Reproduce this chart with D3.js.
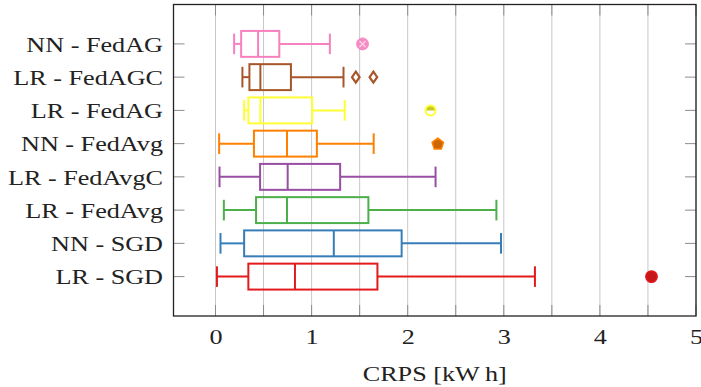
<!DOCTYPE html>
<html>
<head>
<meta charset="utf-8">
<script src="https://cdn.jsdelivr.net/npm/d3@7"></script>
<style>
  html, body { margin: 0; padding: 0; background: #fff; }
  svg { display: block; }
</style>
</head>
<body>
<svg id="chart" width="701" height="387"></svg>
<script>
// ---- data (bottom to top) ----
const categories = ["LR - SGD", "NN - SGD", "LR - FedAvg", "LR - FedAvgC", "NN - FedAvg", "LR - FedAG", "LR - FedAGC", "NN - FedAG"];
const lowerWhisker = [0.015, 0.052, 0.087, 0.042, 0.038, 0.298, 0.280, 0.194];
const lowerQuartile = [0.342, 0.298, 0.422, 0.464, 0.400, 0.342, 0.353, 0.267];
const medianValue = [0.827, 1.231, 0.744, 0.751, 0.744, 0.467, 0.467, 0.443];
const upperQuartile = [1.685, 1.937, 1.591, 1.297, 1.055, 1.006, 0.785, 0.664];
const upperWhisker = [3.324, 2.971, 2.923, 2.290, 1.646, 1.345, 1.332, 1.190];
const outliers = [[4.537], [], [], [], [2.313], [2.238], [1.460, 1.643], [1.530]];
const xTicks = [0, 1, 2, 3, 4, 5];
const xMinorTicks = [0.5, 1.5, 2.5, 3.5, 4.5];
const xLabel = "CRPS [kW\u2009h]";

// ---- styles ----
const colors = ["#e41a1c", "#377eb8", "#4daf4a", "#984ea3", "#ff7f00", "#ffff33", "#a65628", "#f781bf"];
const markTypes = ["circle", "circle", "circle", "circle", "pentagon", "halfcircle", "diamond", "otimes"];
const FONT = "Liberation Serif";
const FS = 22, SX = 1.19;

const svg = d3.select("#chart");
const L = 173.5, R = 696, T = 4.5, B = 316;

const x = d3.scaleLinear().domain([-0.437, 5]).range([L, R]);
const y = d3.scaleLinear().domain([-0.185, 9.185]).range([B, T]);

// grid lines
const gridVals = xTicks.concat(xMinorTicks);
svg.append("g").selectAll("line").data(gridVals).join("line")
  .attr("x1", d => x(d)).attr("x2", d => x(d))
  .attr("y1", T).attr("y2", B)
  .attr("stroke", "#c8c8c8").attr("stroke-width", 1);

// x axis (labels only; ticks drawn inward below)
const tickLen = 11;
const bottomAxis = d3.axisBottom(x).tickValues(xTicks).tickFormat(d3.format("d")).tickSize(0).tickPadding(0);
const gB = svg.append("g").attr("transform", `translate(0,${B})`).call(bottomAxis);
gB.select(".domain").remove();
gB.selectAll(".tick text")
  .attr("font-family", FONT).attr("font-size", FS).attr("fill", "#222")
  .attr("y", 0).attr("dy", null)
  .attr("transform", `translate(0,28) scale(${SX},1)`);

// tick marks bottom/top
svg.append("g").selectAll("line").data(gridVals).join("line")
  .attr("x1", d => x(d)).attr("x2", d => x(d))
  .attr("y1", B).attr("y2", B - tickLen)
  .attr("stroke", "#8c8c8c").attr("stroke-width", 1);
svg.append("g").selectAll("line").data(gridVals).join("line")
  .attr("x1", d => x(d)).attr("x2", d => x(d))
  .attr("y1", T).attr("y2", T + tickLen)
  .attr("stroke", "#8c8c8c").attr("stroke-width", 1);

// y axis labels
const positions = categories.map((c, i) => i + 1);
const leftAxis = d3.axisLeft(y).tickValues(positions).tickFormat((d) => categories[d - 1]).tickSize(0).tickPadding(0);
const gL = svg.append("g").attr("transform", `translate(${L},0)`).call(leftAxis);
gL.select(".domain").remove();
gL.selectAll(".tick text")
  .attr("font-family", FONT).attr("font-size", FS).attr("fill", "#222")
  .attr("x", 0).attr("dy", null).attr("text-anchor", "end")
  .attr("transform", `translate(-10.5,7.2) scale(${SX},1)`);

svg.append("g").selectAll("line").data(positions).join("line")
  .attr("x1", L).attr("x2", L + tickLen)
  .attr("y1", d => y(d)).attr("y2", d => y(d))
  .attr("stroke", "#8c8c8c").attr("stroke-width", 1);
svg.append("g").selectAll("line").data(positions).join("line")
  .attr("x1", R).attr("x2", R - tickLen)
  .attr("y1", d => y(d)).attr("y2", d => y(d))
  .attr("stroke", "#8c8c8c").attr("stroke-width", 1);

// boxes
const boxHalf = 0.39, capHalf = 0.31;
const g = svg.append("g");
categories.forEach((cat, i) => {
  const p = i + 1, c = colors[i];
  const gg = g.append("g").attr("stroke", c).attr("stroke-width", 2).attr("fill", "none");
  gg.append("line").attr("x1", x(lowerWhisker[i])).attr("x2", x(lowerQuartile[i])).attr("y1", y(p)).attr("y2", y(p));
  gg.append("line").attr("x1", x(upperQuartile[i])).attr("x2", x(upperWhisker[i])).attr("y1", y(p)).attr("y2", y(p));
  gg.append("line").attr("x1", x(lowerWhisker[i])).attr("x2", x(lowerWhisker[i])).attr("y1", y(p - capHalf)).attr("y2", y(p + capHalf));
  gg.append("line").attr("x1", x(upperWhisker[i])).attr("x2", x(upperWhisker[i])).attr("y1", y(p - capHalf)).attr("y2", y(p + capHalf));
  gg.append("rect").attr("x", x(lowerQuartile[i])).attr("y", y(p + boxHalf))
    .attr("width", x(upperQuartile[i]) - x(lowerQuartile[i]))
    .attr("height", y(p - boxHalf) - y(p + boxHalf));
  gg.append("line").attr("x1", x(medianValue[i])).attr("x2", x(medianValue[i])).attr("y1", y(p - boxHalf)).attr("y2", y(p + boxHalf));

  outliers[i].forEach(v => {
    const cx = x(v), cy = y(p);
    const m = markTypes[i];
    const dark = d3.color(c).darker(0.35).formatHex();
    if (m === "circle") {
      svg.append("circle").attr("cx", cx).attr("cy", cy).attr("r", 5.8)
        .attr("fill", dark).attr("stroke", c).attr("stroke-width", 1.2);
    } else if (m === "pentagon") {
      const pts = d3.range(5).map(k => {
        const a = -Math.PI / 2 + k * 2 * Math.PI / 5;
        return [cx + 6 * Math.cos(a), cy + 6 * Math.sin(a) + 0.5];
      });
      svg.append("polygon").attr("points", pts.map(q => q.join(",")).join(" "))
        .attr("fill", "#cc6600").attr("stroke", c).attr("stroke-width", 1.5).attr("stroke-linejoin", "round");
    } else if (m === "halfcircle") {
      svg.append("path").attr("d", `M${cx - 5},${cy} A5,5 0 0 1 ${cx + 5},${cy} Z`)
        .attr("fill", "#c8c82a");
      svg.append("circle").attr("cx", cx).attr("cy", cy).attr("r", 5)
        .attr("fill", "none").attr("stroke", c).attr("stroke-width", 2);
    } else if (m === "diamond") {
      svg.append("path").attr("d", `M${cx},${cy - 5.5} L${cx + 3.8},${cy} L${cx},${cy + 5.5} L${cx - 3.8},${cy} Z`)
        .attr("fill", "#fff").attr("stroke", c).attr("stroke-width", 2.2).attr("stroke-linejoin", "miter");
    } else if (m === "otimes") {
      svg.append("circle").attr("cx", cx).attr("cy", cy).attr("r", 6)
        .attr("fill", "#f48cc4").attr("stroke", c).attr("stroke-width", 0.8);
      const d = 3;
      svg.append("path").attr("d", `M${cx - d},${cy - d} L${cx + d},${cy + d} M${cx - d},${cy + d} L${cx + d},${cy - d}`)
        .attr("stroke", "#fbd0e6").attr("stroke-width", 1.4);
    }
  });
});

// frame
svg.append("rect").attr("x", L).attr("y", T).attr("width", R - L).attr("height", B - T)
  .attr("fill", "none").attr("stroke", "#222").attr("stroke-width", 1.3);

// x label
svg.append("text")
  .attr("transform", `translate(${(L + R) / 2},381) scale(${SX},1)`)
  .attr("text-anchor", "middle").attr("font-size", FS).attr("font-family", FONT).attr("fill", "#222")
  .text(xLabel);
</script>
</body>
</html>
